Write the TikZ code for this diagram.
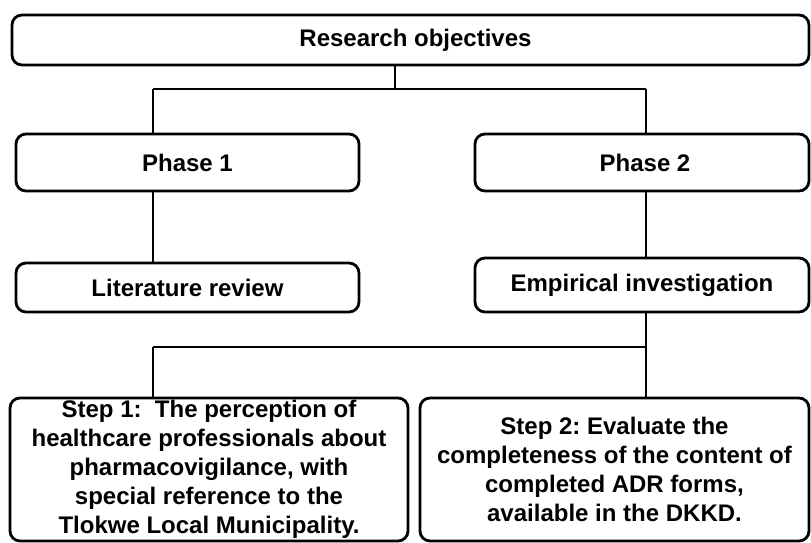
\documentclass[tikz,border=0pt]{standalone}
\usepackage{fontspec}
\setmainfont{Liberation Sans}
\usetikzlibrary{positioning}
\frenchspacing

\begin{document}
\begin{tikzpicture}[
    x=1pt, y=-1pt,
    box/.style={draw, line width=2.8pt, rounded corners=10pt, align=center,
        inner sep=2pt, font=\fontsize{24}{29}\selectfont\bfseries},
    link/.style={line width=2.8pt}
]
    \useasboundingbox (0,0) rectangle (811,543);

    % 节点定义 (顶部, 两个阶段, 两个步骤)
    \node[box, minimum width=797pt, minimum height=50pt] (RO) at (410.5,40) {\hspace{10pt}Research objectives};   % 顶部节点
    \node[box, minimum width=343pt, minimum height=57pt] (P1) at (187.5,162.5) {Phase 1};   % 左阶段
    \node[box, minimum width=334pt, minimum height=57pt] (P2) at (642,162.5) {\hspace{6pt}Phase 2};     % 右阶段
    \node[box, minimum width=343pt, minimum height=49pt] (LR) at (187.5,287.5) {Literature review};
    \node[box, minimum width=334pt, minimum height=54pt] (EI) at (642,285) {Empirical investigation};
    \node[box, minimum width=398pt, minimum height=143pt] (S1) at (209,469.5)
        {Step 1:\ \ The perception of\\healthcare professionals about\\pharmacovigilance, with\\special reference to the\\Tlokwe Local Municipality.};
    \node[box, minimum width=389pt, minimum height=143pt] (S2) at (614.5,469.5)
        {Step 2: Evaluate the\\completeness of the content of\\completed ADR forms,\\available in the DKKD.};

    % 分支点
    \coordinate (top) at (395,89);
    \coordinate (tl) at (153,89);
    \coordinate (tr) at (646,89);
    \coordinate (bl) at (153,347);
    \coordinate (br) at (646,347);

    % 1. 顶部到两个阶段
    \draw[link] (RO.south -| top) -- (top);
    \draw[link] (tl) -- (tr);
    \draw[link] (tl) -- (tl |- P1.north);
    \draw[link] (tr) -- (tr |- P2.north);

    % 2. 阶段到下一层
    \draw[link] (P1.south -| tl) -- (LR.north -| tl);
    \draw[link] (P2.south -| tr) -- (EI.north -| tr);

    % 3. 实证研究到两个步骤
    \draw[link] (EI.south -| br) -- (S2.north -| br);
    \draw[link] (bl) -- (br);
    \draw[link] (bl) -- (S1.north -| bl);

\end{tikzpicture}
\end{document}
